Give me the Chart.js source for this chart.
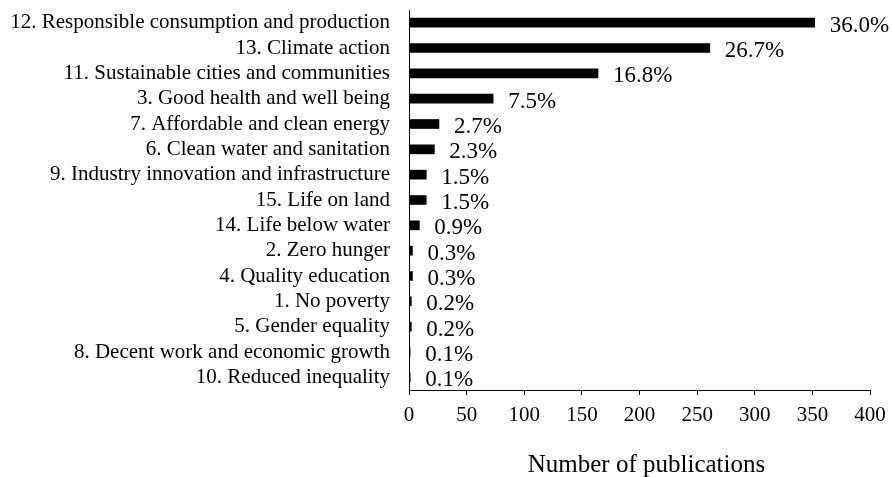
<!DOCTYPE html>
<html>
<head>
<meta charset="utf-8">
<script src="https://cdn.jsdelivr.net/npm/chart.js@4/dist/chart.umd.min.js"></script>
<style>
html,body{margin:0;padding:0;background:#fff;}
#wrap{width:892px;height:477px;position:relative;}
</style>
</head>
<body>
<div id="wrap"><canvas id="c" width="892" height="477"></canvas></div>
<script>
const categories = [
  "12. Responsible consumption and production",
  "13. Climate action",
  "11. Sustainable cities and communities",
  "3. Good health and well being",
  "7. Affordable and clean energy",
  "6. Clean water and sanitation",
  "9. Industry innovation and infrastructure",
  "15. Life on land",
  "14. Life below water",
  "2. Zero hunger",
  "4. Quality education",
  "1. No poverty",
  "5. Gender equality",
  "8. Decent work and economic growth",
  "10. Reduced inequality"
];
const publications = [352, 261, 164, 73, 26, 22, 15, 15, 9, 3, 3, 2, 2, 1, 1];
const percentLabels = ["36.0%","26.7%","16.8%","7.5%","2.7%","2.3%","1.5%","1.5%","0.9%","0.3%","0.3%","0.2%","0.2%","0.1%","0.1%"];
const xTicks = [0, 50, 100, 150, 200, 250, 300, 350, 400];
const xTitle = "Number of publications";

const FONT = '"Liberation Serif", "Times New Roman", serif';

const extraText = {
  id: 'extraText',
  afterDatasetsDraw(chart) {
    const ctx = chart.ctx;
    const meta = chart.getDatasetMeta(0);
    ctx.save();
    ctx.font = '23px ' + FONT;
    ctx.fillStyle = '#000';
    ctx.textAlign = 'left';
    ctx.textBaseline = 'middle';
    meta.data.forEach((bar, i) => {
      ctx.fillText(percentLabels[i], bar.x + 15, bar.y + 3);
    });
    ctx.restore();
  },
  afterDraw(chart) {
    const ctx = chart.ctx;
    const a = chart.chartArea;
    ctx.save();
    ctx.font = '25px ' + FONT;
    ctx.fillStyle = '#000';
    ctx.textAlign = 'center';
    ctx.textBaseline = 'middle';
    ctx.fillText(xTitle, (a.left + a.right) / 2 + 7, 465);
    ctx.restore();
  }
};

new Chart(document.getElementById('c'), {
  type: 'bar',
  data: {
    labels: categories,
    datasets: [{
      data: publications,
      backgroundColor: '#000',
      borderWidth: 0,
      barThickness: 9
    }]
  },
  options: {
    indexAxis: 'y',
    responsive: false,
    animation: false,
    devicePixelRatio: 1,
    layout: { padding: { top: 10, right: 22, bottom: 0, left: 0 } },
    plugins: { legend: { display: false }, tooltip: { enabled: false } },
    scales: {
      x: {
        type: 'linear',
        min: 0, max: 400,
        afterBuildTicks(scale) { scale.ticks = xTicks.map(v => ({ value: v })); },
        afterFit(scale) { scale.height = 87; scale.paddingLeft = 0; scale.paddingRight = 0; },
        grid: { drawOnChartArea: false, drawTicks: true, tickLength: 5, color: '#000', lineWidth: 1 },
        border: { display: true, color: '#000', width: 1 },
        ticks: { color: '#000', font: { family: FONT, size: 21 }, padding: 8, maxRotation: 0 }
      },
      y: {
        afterFit(scale) { scale.width = 409; scale.paddingTop = 0; scale.paddingBottom = 0; },
        grid: { display: false, drawTicks: false, tickLength: 0 },
        border: { display: true, color: '#000', width: 1 },
        ticks: { color: '#000', font: { family: FONT, size: 21 }, padding: 19, autoSkip: false }
      }
    }
  },
  plugins: [extraText]
});
</script>
</body>
</html>
